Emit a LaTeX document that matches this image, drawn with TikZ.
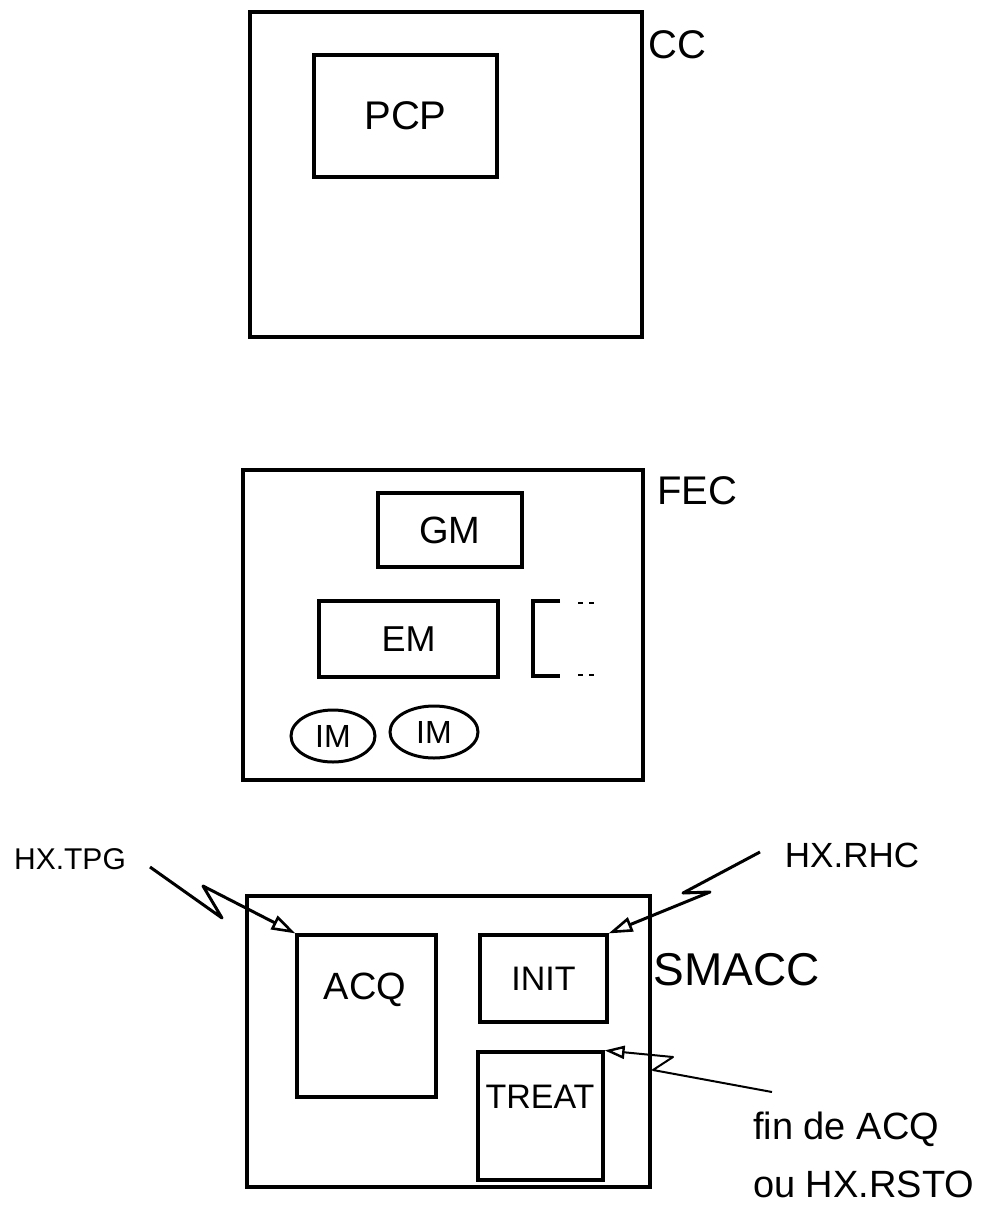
\documentclass[tikz,border=0pt]{standalone}
\usepackage{fontspec}
\setmainfont{Liberation Sans}
\usetikzlibrary{arrows.meta,shapes.geometric}
\newcommand{\fsz}[1]{\fontsize{#1}{#1}\selectfont}
\begin{document}
\begin{tikzpicture}[x=1pt,y=-1pt,
  box/.style={draw, line width=3.2pt, rectangle, inner sep=0pt},
  oval/.style={draw, line width=3pt, ellipse, inner sep=0pt},
  lbl/.style={inner sep=0pt},
  bolt/.style={line width=3pt, line join=round, -{Triangle[open,length=24pt,width=15pt,line width=2.6pt]}},
  thinbolt/.style={line width=2pt, line join=round, -{Triangle[open,length=20pt,width=13pt,line width=2.4pt]}}
]
\useasboundingbox (0,0) rectangle (1008,1216);
\fill[white] (0,0) rectangle (1008,1216);

% CC
\node[box, minimum width=392pt, minimum height=325pt] (cc) at (446,174.5) {};
\node[lbl, anchor=west, font=\fsz{40}] (cclbl) at (648,45) {CC};
\node[box, minimum width=183pt, minimum height=122pt, font=\fsz{40}] (pcp) at (405.5,116) {PCP};

% FEC
\node[box, minimum width=400pt, minimum height=310pt] (fec) at (443,625) {};
\node[lbl, font=\fsz{40}] (feclbl) at (697,491) {FEC};
\node[box, minimum width=144pt, minimum height=74pt, font=\fsz{38}] (gm) at (450,530) {GM};
\node[box, minimum width=179pt, minimum height=76pt, font=\fsz{36}] (em) at (408.5,639) {EM};
\draw[line width=3.2pt] (560,601) -- (533,601) -- (533,676) -- (560,676);
\draw[line width=2.8pt, dash pattern=on 5pt off 6pt] (578,603) -- (598,603);
\draw[line width=2.8pt, dash pattern=on 5pt off 6pt] (578,675) -- (598,675);
\node[oval, minimum width=84pt, minimum height=52pt, font=\fsz{32}] (im1) at (333,736) {IM};
\node[oval, minimum width=88pt, minimum height=52pt, font=\fsz{32}] (im2) at (434,732) {IM};

% SMACC
\node[box, minimum width=403pt, minimum height=291pt] (smacc) at (448.5,1041.5) {};
\node[lbl, font=\fsz{46}] (smacclbl) at (737,970) {SMACC};
\node[box, minimum width=139pt, minimum height=162pt] (acq) at (366.5,1016) {};
\node[lbl, font=\fsz{38}] (acqt) at (365,990) {ACQ};
\node[box, minimum width=127pt, minimum height=87pt, font=\fsz{34}] (init) at (543.5,978.5) {INIT};
\node[box, minimum width=125pt, minimum height=128pt] (treat) at (540.5,1116) {};
\node[lbl, font=\fsz{34}] (treatt) at (540,1097) {TREAT};

% external labels
\node[lbl, font=\fsz{30}] (tpg) at (70,859) {HX.TPG};
\node[lbl, font=\fsz{35}] (rhc) at (852,855) {HX.RHC};
\node[lbl, anchor=north west, align=left, font=\fsz{38}] (fin) at (753,1112) {fin de ACQ\\[20pt]ou HX.RSTO};

% connectors
\coordinate (tpgs) at (150,867);
\coordinate (rhcs) at (760,852);
\coordinate (fins) at (772,1092);
\draw[bolt] (tpgs) -- (222,918) -- (203,886) -- (acq.north west);
\draw[bolt] (rhcs) -- (683,893) -- (710,892) -- (init.north east);
\draw[thinbolt] (fins) -- (653,1070) -- (673,1057) -- (treat.north east);
\end{tikzpicture}
\end{document}
